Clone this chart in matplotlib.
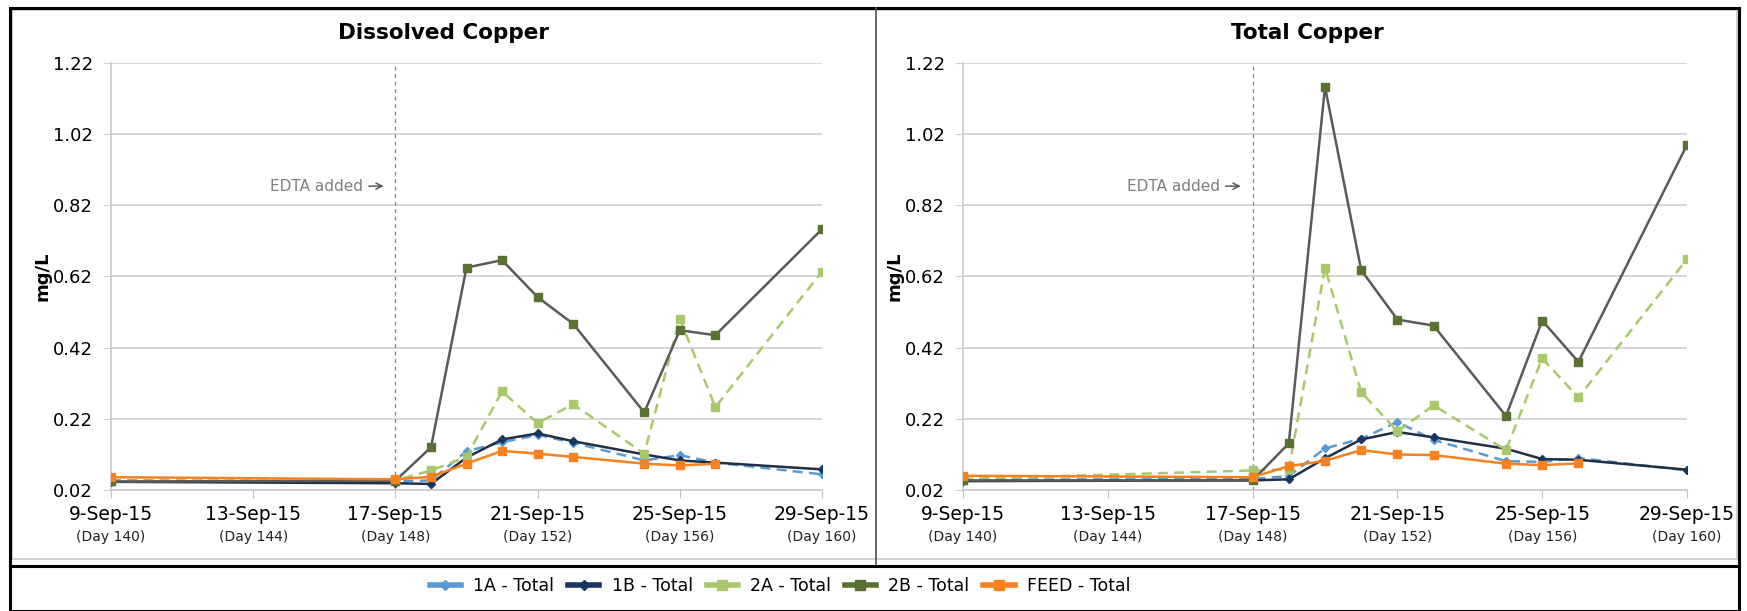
import numpy as np
import pandas as pd
import matplotlib
matplotlib.use('Agg')
import matplotlib.pyplot as plt
import matplotlib.dates as mdates
from matplotlib.lines import Line2D
from matplotlib.patches import Rectangle

plt.rcParams['font.family'] = ['DejaVu Sans']

# sample dates (same for both panels)
dates = ['2015-09-09', '2015-09-17', '2015-09-18', '2015-09-19', '2015-09-20', '2015-09-21',
         '2015-09-22', '2015-09-24', '2015-09-25', '2015-09-26', '2015-09-29']

# Dissolved copper, mg/L
diss_1a = [0.047, 0.044, 0.047, 0.129, 0.154, 0.175, 0.153, 0.103, 0.118, 0.097, 0.064]
diss_1b = [0.043, 0.039, 0.037, 0.111, 0.162, 0.179, 0.157, 0.120, 0.103, 0.097, 0.078]
diss_2a = [0.045, 0.047, 0.075, 0.113, 0.297, 0.208, 0.261, 0.122, 0.501, 0.253, 0.634]
diss_2b = [0.044, 0.046, 0.140, 0.645, 0.666, 0.562, 0.487, 0.238, 0.469, 0.455, 0.753]
diss_feed = [0.056, 0.050, 0.057, 0.094, 0.130, 0.122, 0.113, 0.094, 0.089, 0.094, np.nan]

# Total copper, mg/L
tot_1a = [0.049, 0.051, 0.059, 0.137, 0.164, 0.211, 0.161, 0.101, 0.099, 0.110, 0.075]
tot_1b = [0.045, 0.047, 0.050, 0.109, 0.162, 0.183, 0.168, 0.136, 0.107, 0.105, 0.077]
tot_2a = [0.051, 0.075, 0.078, 0.645, 0.295, 0.185, 0.258, 0.132, 0.390, 0.280, 0.669]
tot_2b = [0.047, 0.047, 0.151, 1.153, 0.638, 0.499, 0.482, 0.228, 0.496, 0.380, 0.990]
tot_feed = [0.060, 0.056, 0.087, 0.102, 0.132, 0.120, 0.118, 0.094, 0.090, 0.095, np.nan]

tick_dates = ['2015-09-09', '2015-09-13', '2015-09-17', '2015-09-21', '2015-09-25', '2015-09-29']
tick_labels = ['9-Sep-15', '13-Sep-15', '17-Sep-15', '21-Sep-15', '25-Sep-15', '29-Sep-15']
day_labels = ['(Day 140)', '(Day 144)', '(Day 148)', '(Day 152)', '(Day 156)', '(Day 160)']
yticks = [0.02, 0.22, 0.42, 0.62, 0.82, 1.02, 1.22]
edta_date = '2015-09-17'

x = mdates.date2num(pd.to_datetime(dates))
xt = mdates.date2num(pd.to_datetime(tick_dates))
xe = mdates.date2num(pd.to_datetime(edta_date))

# name, marker color, line color, linestyle, marker, marker size
styles = [
    ('1A - Total', '#5B9BD5', '#5B9BD5', (0, (4, 2.5)), 'D', 4.5),
    ('1B - Total', '#17375E', '#1F2F45', '-', 'D', 4.5),
    ('2A - Total', '#A9C86B', '#A9C86B', (0, (4, 2.5)), 's', 6),
    ('2B - Total', '#5A7132', '#5A5A5A', '-', 's', 6),
    ('FEED - Total', '#F5821F', '#F5821F', '-', 's', 6),
]

W, H = 1747, 611
fig = plt.figure(figsize=(W / 100, H / 100), dpi=100)


def fx(px):
    return px / W


def fy(py):
    return 1 - py / H


def draw_panel(ax, series, title, title_x):
    for (name, c, lc, ls, mk, ms), vals in zip(styles, series):
        ax.plot(x, vals, color=lc, linestyle=ls, linewidth=1.8, marker=mk,
                markersize=ms, markerfacecolor=c, markeredgecolor=c, zorder=3)
    ax.set_xlim(xt[0], xt[-1])
    ax.set_ylim(0.02, 1.22)
    ax.set_yticks(yticks)
    ax.set_yticklabels(['%.2f' % v for v in yticks], fontsize=13)
    ax.set_xticks(xt)
    ax.set_xticklabels(tick_labels, fontsize=13.5)
    ax.tick_params(axis='x', length=6, color='#BFBFBF', pad=5)
    ax.tick_params(axis='y', length=6, color='#D0D0D0', pad=7)
    ax.grid(axis='y', color='#D0D0D0', linewidth=1.2)
    ax.set_axisbelow(True)
    for s in ['top', 'right']:
        ax.spines[s].set_visible(False)
    for s in ['left', 'bottom']:
        ax.spines[s].set_color('#C8C8C8')
        ax.spines[s].set_linewidth(1.2)
    for xv, lab in zip(xt, day_labels):
        ax.text(xv, -0.11, lab, transform=ax.get_xaxis_transform(), ha='center',
                va='center', fontsize=10, color='#222222')
    ax.axvline(xe, color='#808080', linestyle=(0, (3, 3)), linewidth=0.9, zorder=1)
    ax.annotate('EDTA added', xy=(xe - 0.25, 0.874), xytext=(xe - 0.9, 0.874),
                ha='right', va='center', fontsize=11, color='#7F7F7F',
                arrowprops=dict(arrowstyle='->', color='#595959', lw=1.1))
    ax.set_ylabel('mg/L', fontsize=13, fontweight='bold', labelpad=1)
    fig.text(title_x, fy(33), title, ha='center', va='center', fontsize=15.5, fontweight='bold')


ax1 = fig.add_axes([fx(111), fy(490), fx(822 - 111), (490 - 63) / H])
ax2 = fig.add_axes([fx(963), fy(490), fx(1687 - 963), (490 - 63) / H])

draw_panel(ax1, [diss_1a, diss_1b, diss_2a, diss_2b, diss_feed], 'Dissolved Copper', fx(444))
draw_panel(ax2, [tot_1a, tot_1b, tot_2a, tot_2b, tot_feed], 'Total Copper', fx(1307))

# frames
fig.add_artist(Rectangle((fx(12), fy(559)), fx(876 - 12), (559 - 10) / H, fill=False,
                         edgecolor='#C8C8C8', linewidth=1.2))
fig.add_artist(Rectangle((fx(876), fy(559)), fx(1737 - 876), (559 - 10) / H, fill=False,
                         edgecolor='#C8C8C8', linewidth=1.2))
fig.add_artist(Line2D([fx(876), fx(876)], [fy(8), fy(566)], color='#555555', linewidth=1.2))
fig.add_artist(Line2D([fx(10), fx(1739)], [fy(566), fy(566)], color='black', linewidth=2.2))
fig.add_artist(Rectangle((fx(10), fy(611)), fx(1739 - 10), (611 - 8) / H, fill=False,
                         edgecolor='black', linewidth=2.2))

handles = [Line2D([], [], color=c, linewidth=4, marker=mk, markersize=ms + 1,
                  markerfacecolor=c, markeredgecolor=c)
           for (name, c, lc, ls, mk, ms) in styles]
fig.legend(handles, [s[0] for s in styles], loc='center', bbox_to_anchor=(fx(780), fy(586)),
           ncol=5, frameon=False, fontsize=12.5, handlelength=1.8, columnspacing=0.8,
           handletextpad=0.7)

fig.savefig('out.png', dpi=100)
